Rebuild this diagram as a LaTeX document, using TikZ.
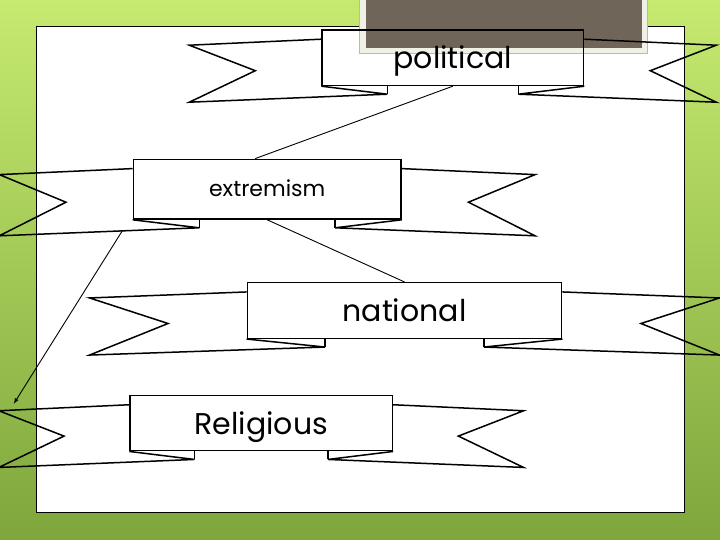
\documentclass[tikz,border=0pt]{standalone}
\usepackage{fontspec}
\setmainfont{Poppins}
\usetikzlibrary{calc}

\definecolor{lime}{RGB}{198,234,112}
\definecolor{moss}{RGB}{126,166,60}
\definecolor{taupe}{RGB}{111,102,89}
\definecolor{cream}{RGB}{240,240,230}
\definecolor{sage}{RGB}{178,200,120}

\newcommand{\tails}[2]{%
  \coordinate (#1-tl) at ($(#1.north west)+(-#2,16)$);
  \coordinate (#1-bl) at ($(#1.south west)+(-#2,16)$);
  \coordinate (#1-fl) at ($(#1.south west)+({#2/2},8)$);
  \coordinate (#1-tr) at ($(#1.north east)+(#2,16)$);
  \coordinate (#1-br) at ($(#1.south east)+(#2,16)$);
  \coordinate (#1-fr) at ($(#1.south east)+({-#2/2},8)$);
  \draw [tail] ($(#1.north west)+(0,10)$) -- (#1-tl) -- ($(#1.west)+({-#2/2},13)$) -- (#1-bl) -- (#1-fl) -- (#1.south west);
  \draw [tail] (#1-fl) -- ($(#1.south west)+({#2/2},0)$);
  \draw [tail] ($(#1.north east)+(0,10)$) -- (#1-tr) -- ($(#1.east)+({#2/2},13)$) -- (#1-br) -- (#1-fr) -- (#1.south east);
  \draw [tail] (#1-fr) -- ($(#1.south east)+({-#2/2},0)$);
}

\begin{document}
\begin{tikzpicture}
      [
      x=1pt,y=-1pt,
      banner/.style={draw,line width=1.5pt,rectangle,inner sep=0pt,text height=23pt,text depth=1pt,font=\fontsize{30}{31}\selectfont},
      tail/.style={line width=1.5pt},
      link/.style={line width=0.9pt}
      ]
      \useasboundingbox (0,0) rectangle (720,540);
      \shade [top color=lime,bottom color=moss] (0,0) rectangle (720,540);
      \draw [fill=white,line width=0.8pt] (36,26) rectangle (684,512.7);
      \filldraw [fill=cream,draw=sage,line width=0.6pt] (359.3,-4) rectangle (647,53.3);
      \fill [taupe] (365.7,-4) rectangle (641.7,47.7);
      \node (0) at (452.8,57.7) [banner,minimum width=261.5pt,minimum height=55.5pt] {political};
      \node (1) at (267.2,189.2) [banner,minimum width=267.7pt,minimum height=59.7pt,text height=15pt,font=\fontsize{22}{23}\selectfont] {extremism};
      \node (2) at (404.5,310.5) [banner,minimum width=314.4pt,minimum height=55.6pt] {national};
      \node (3) at (261.2,423.1) [banner,minimum width=262.3pt,minimum height=55.2pt] {Religious};
      \tails{0}{132}
      \tails{1}{133.3}
      \tails{2}{157}
      \tails{3}{130.5}
      \draw [link] (0.south) to ([xshift=-12pt]1.north);
      \draw [link] (1.south) to (2.north);
      \draw [link,-latex] ($(1-bl)!0.615!(1-fl)$) to ($(3-tl)+(15,-7)$);
    \end{tikzpicture}
\end{document}
